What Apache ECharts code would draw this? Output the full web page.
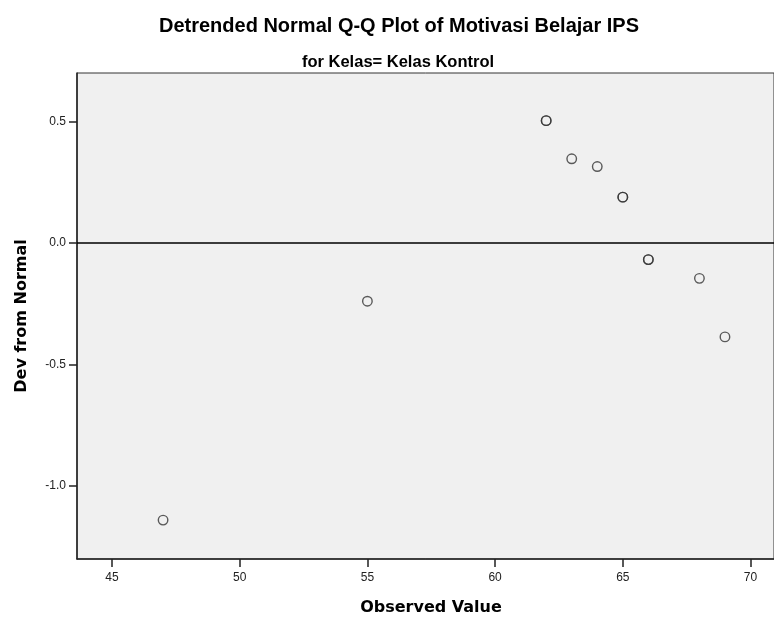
<!DOCTYPE html>
<html>
<head>
<meta charset="utf-8">
<script src="https://cdn.jsdelivr.net/npm/echarts@6/dist/echarts.min.js"></script>
<style>
  html, body { margin: 0; padding: 0; background: #fff; }
  #chart { width: 774px; height: 621px; }
</style>
</head>
<body>
<div id="chart"></div>
<script>
// observed values (duplicates kept, they draw darker circles)
var observed = [47, 55, 62, 62, 63, 64, 65, 65, 66, 66, 68, 69];
var devFromNormal = [-1.140, -0.239, 0.504, 0.504, 0.347, 0.315, 0.189, 0.189, -0.068, -0.068, -0.145, -0.386];
var xTicks = [45, 50, 55, 60, 65, 70];
var yTicks = [-1.0, -0.5, 0.0, 0.5];

var points = observed.map(function (v, i) { return [v, devFromNormal[i]]; });

var chart = echarts.init(document.getElementById('chart'));

var option = {
  backgroundColor: '#fff',
  animation: false,
  title: [
    {
      text: 'Detrended Normal Q-Q Plot of Motivasi Belajar IPS',
      left: 394, top: 11, textAlign: 'center',
      textStyle: { fontFamily: 'Liberation Sans, Arial, sans-serif', fontSize: 20, fontWeight: 'bold', color: '#000' }
    },
    {
      text: 'for Kelas= Kelas Kontrol',
      left: 393, top: 49, textAlign: 'center',
      textStyle: { fontFamily: 'Liberation Sans, Arial, sans-serif', fontSize: 16.5, fontWeight: 'bold', color: '#000' }
    }
  ],
  grid: {
    left: 77, top: 73, right: -1, bottom: 61,
    show: true, backgroundColor: '#f0f0f0', borderColor: '#333', borderWidth: 1
  },
  xAxis: {
    type: 'value',
    min: 43.63, max: 70.92,
    name: 'Observed Value',
    nameLocation: 'middle', nameGap: 41,
    nameTextStyle: { fontFamily: 'DejaVu Sans, Verdana, sans-serif', fontSize: 16, fontWeight: 'bold', color: '#000', padding: [0, 0, 0, 11] },
    axisLine: { onZero: false, lineStyle: { color: '#222', width: 1.5 } },
    axisTick: { show: true, customValues: xTicks, length: 8, lineStyle: { color: '#222', width: 1.5 } },
    axisLabel: { customValues: xTicks, margin: 13, fontFamily: 'Liberation Sans, Arial, sans-serif', fontSize: 12, color: '#222' },
    splitLine: { show: false }
  },
  yAxis: {
    type: 'value',
    min: -1.30, max: 0.70,
    name: 'Dev from Normal',
    nameLocation: 'middle', nameGap: 47, nameRotate: 90,
    nameTextStyle: { fontFamily: 'DejaVu Sans, Verdana, sans-serif', fontSize: 16, fontWeight: 'bold', color: '#000' },
    axisLine: { show: true, onZero: false, lineStyle: { color: '#222', width: 1.5 } },
    axisTick: { show: true, customValues: yTicks, length: 8, lineStyle: { color: '#222', width: 1.5 } },
    axisLabel: {
      customValues: yTicks, margin: 11,
      fontFamily: 'Liberation Sans, Arial, sans-serif', fontSize: 12, color: '#222',
      formatter: function (v) { return v.toFixed(1); }
    },
    splitLine: { show: false }
  },
  series: [{
    type: 'scatter',
    data: points,
    symbol: 'circle',
    symbolSize: 9.5,
    itemStyle: { color: 'rgba(0,0,0,0)', borderColor: '#333', borderWidth: 1.4 },
    markLine: {
      silent: true,
      symbol: ['none', 'none'],
      label: { show: false },
      lineStyle: { color: '#000', width: 1.5, type: 'solid' },
      data: [{ yAxis: 0 }]
    }
  }]
};

chart.setOption(option);
</script>
</body>
</html>
